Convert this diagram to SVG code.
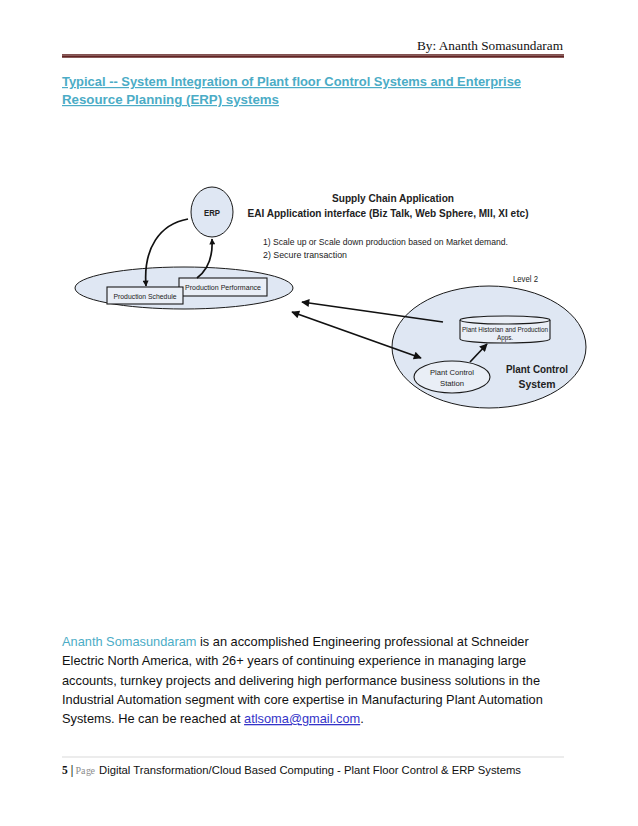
<svg xmlns="http://www.w3.org/2000/svg" width="638" height="826" viewBox="0 0 638 826">
<defs>
<style>
.sans{font-family:"Liberation Sans",Arial,sans-serif}
.serif{font-family:"Liberation Serif","Times New Roman",serif}
.shape{fill:#dfe7f3;stroke:#1a1a1a;stroke-width:1}
.box{fill:#e9eef6;stroke:#1a1a1a;stroke-width:1.1}
.conn{fill:none;stroke:#111;stroke-width:1.7}
.lbl{font-family:"Liberation Sans",Arial,sans-serif;fill:#222}
.body{font-family:"Liberation Sans",Arial,sans-serif;font-size:12.8px;fill:#111}
</style>
<marker id="ah" viewBox="0 0 10 10" refX="9" refY="5" markerWidth="11" markerHeight="8" markerUnits="userSpaceOnUse" orient="auto-start-reverse">
<path d="M0,0 L10,5 L0,10 z" fill="#111"/>
</marker>
<marker id="ahs" viewBox="0 0 10 10" refX="9" refY="5" markerWidth="8" markerHeight="6" markerUnits="userSpaceOnUse" orient="auto-start-reverse">
<path d="M0,0 L10,5 L0,10 z" fill="#111"/>
</marker>
</defs>
<rect width="638" height="826" fill="#fff"/>

<!-- header -->
<text class="serif" x="563" y="50" font-size="13" text-anchor="end" fill="#111" textLength="146" lengthAdjust="spacingAndGlyphs">By: Ananth Somasundaram</text>
<line x1="62" y1="54.5" x2="564" y2="54.5" stroke="#622423" stroke-width="0.8"/>
<line x1="62" y1="56.5" x2="564" y2="56.5" stroke="#622423" stroke-width="2.4"/>

<!-- title -->
<g class="sans" font-weight="bold" font-size="12" fill="#4bacc6" text-decoration="underline">
<text x="62" y="86" textLength="459" lengthAdjust="spacingAndGlyphs">Typical -- System Integration of Plant floor Control Systems and Enterprise</text>
<text x="62" y="104" textLength="217" lengthAdjust="spacingAndGlyphs">Resource Planning (ERP) systems</text>
</g>

<!-- diagram labels -->
<g id="captions" class="lbl">
<text x="393" y="202" font-size="11" font-weight="bold" text-anchor="middle" textLength="122" lengthAdjust="spacingAndGlyphs">Supply Chain Application</text>
<text x="388" y="217" font-size="11" font-weight="bold" text-anchor="middle" textLength="281" lengthAdjust="spacingAndGlyphs">EAI Application interface (Biz Talk, Web Sphere, MII, XI etc)</text>
<text x="263" y="245" font-size="9" textLength="245" lengthAdjust="spacingAndGlyphs">1) Scale up or Scale down production based on Market demand.</text>
<text x="263" y="258" font-size="9" textLength="84" lengthAdjust="spacingAndGlyphs">2) Secure transaction</text>
</g>

<g id="level3">
<ellipse class="shape" cx="184" cy="288" rx="109" ry="21"/>
</g>

<g id="level2">
<ellipse class="shape" cx="489" cy="347" rx="97" ry="61"/>
<text class="lbl" x="513" y="282" font-size="9" textLength="25" lengthAdjust="spacingAndGlyphs">Level 2</text>
<text class="lbl" x="537" y="373" font-size="11.5" font-weight="bold" text-anchor="middle" textLength="62" lengthAdjust="spacingAndGlyphs">Plant Control</text>
<text class="lbl" x="537" y="388" font-size="11.5" font-weight="bold" text-anchor="middle" textLength="37" lengthAdjust="spacingAndGlyphs">System</text>
</g>

<g id="erp">
<ellipse class="shape" cx="212" cy="212" rx="21" ry="25"/>
<text class="lbl" x="212" y="216" font-size="9.5" font-weight="bold" text-anchor="middle" textLength="16" lengthAdjust="spacingAndGlyphs">ERP</text>
</g>

<g id="production-performance">
<rect class="box" x="179" y="278" width="88" height="18"/>
<text class="lbl" x="223" y="290" font-size="7" text-anchor="middle" textLength="76" lengthAdjust="spacingAndGlyphs">Production Performance</text>
</g>

<g id="production-schedule">
<rect class="box" x="107" y="287" width="76" height="17"/>
<text class="lbl" x="145" y="299" font-size="7.5" text-anchor="middle" textLength="63" lengthAdjust="spacingAndGlyphs">Production Schedule</text>
</g>

<g id="plant-historian">
<path class="box" d="M460,320 L460,339 A45,4 0 0 0 550,339 L550,320"/>
<ellipse class="box" cx="505" cy="320" rx="45" ry="4"/>
<text class="lbl" x="505" y="332" font-size="7" text-anchor="middle" textLength="86" lengthAdjust="spacingAndGlyphs">Plant Historian and Production</text>
<text class="lbl" x="505" y="340" font-size="7" text-anchor="middle" textLength="16" lengthAdjust="spacingAndGlyphs">Apps.</text>
</g>

<g id="plant-control-station">
<ellipse class="box" cx="452" cy="377" rx="38" ry="16"/>
<text class="lbl" x="452" y="375" font-size="7.5" text-anchor="middle" textLength="44" lengthAdjust="spacingAndGlyphs">Plant Control</text>
<text class="lbl" x="452" y="386" font-size="7.5" text-anchor="middle" textLength="24" lengthAdjust="spacingAndGlyphs">Station</text>
</g>

<g id="connectors">
<path class="conn" stroke-width="1.3" d="M188,219 C160,224 143,248 146,286" marker-end="url(#ahs)"/>
<path class="conn" stroke-width="1.3" d="M197,278 C209,269 213,256 212,239" marker-end="url(#ahs)"/>
<path class="conn" d="M443,322 L302,302" marker-end="url(#ah)"/>
<path class="conn" d="M292,312 L421,358" marker-start="url(#ah)" marker-end="url(#ah)"/>
<path class="conn" d="M470,362 L487,344" marker-end="url(#ah)"/>
</g>

<!-- body -->
<g class="body">
<text x="62" y="646"><tspan fill="#4bacc6">Ananth Somasundaram</tspan> is an accomplished Engineering professional at Schneider</text>
<text x="62" y="665">Electric North America, with 26+ years of continuing experience in managing large</text>
<text x="62" y="685">accounts, turnkey projects and delivering high performance business solutions in the</text>
<text x="62" y="704">Industrial Automation segment with core expertise in Manufacturing Plant Automation</text>
<text x="62" y="723">Systems. He can be reached at <tspan fill="#3434c8" text-decoration="underline">atlsoma@gmail.com</tspan>.</text>
</g>

<!-- footer -->
<line x1="62" y1="757" x2="564" y2="757" stroke="#d9d9d9" stroke-width="1"/>
<text class="serif" x="62" y="774" font-size="11.5" font-weight="bold" fill="#111">5 |</text>
<text class="serif" x="75.5 81 86 90.5" y="774" font-size="10" fill="#8c8c8c">Page</text>
<text class="sans" x="99" y="774" font-size="10.5" fill="#111" textLength="422" lengthAdjust="spacingAndGlyphs">Digital Transformation/Cloud Based Computing - Plant Floor Control &amp; ERP Systems</text>
</svg>
